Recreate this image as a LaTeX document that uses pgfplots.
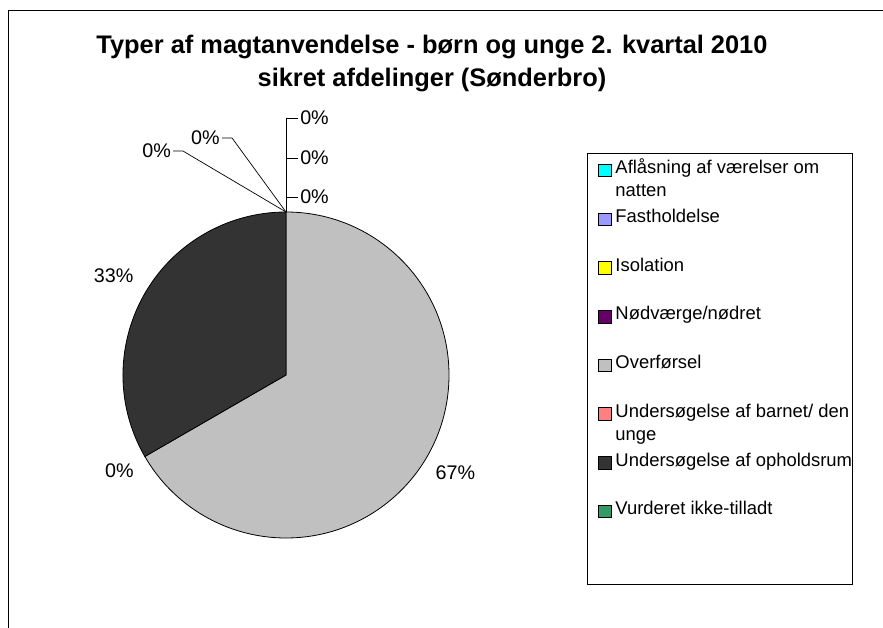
\documentclass[border=0pt]{standalone}
\usepackage{pgfplots}
\pgfplotsset{compat=1.18}
\usepackage{pgfplotstable}
\usepackage{fontspec}
\setmainfont{Liberation Sans}
\definecolor{cAfl}{HTML}{00FFFF}
\definecolor{cFast}{HTML}{9999FF}
\definecolor{cIso}{HTML}{FFFF00}
\definecolor{cNod}{HTML}{660066}
\definecolor{cOver}{HTML}{C0C0C0}
\definecolor{cUbarn}{HTML}{FF8080}
\definecolor{cUoph}{HTML}{333333}
\definecolor{cVurd}{HTML}{339966}
% value = count of each type; lr = label distance from the centre (pie radius = 1)
\pgfplotstableread[col sep=semicolon]{
name;value;color;lr
Aflåsning af værelser om natten;0;cAfl;1.05
Fastholdelse;0;cFast;1.05
Isolation;0;cIso;1.05
Nødværge/nødret;0;cNod;1.05
Overførsel;2;cOver;1.10
Undersøgelse af barnet/ den unge;0;cUbarn;1.08
Undersøgelse af opholdsrum;1;cUoph;1.12
Vurderet ikke-tilladt;0;cVurd;1.05
}\piedata
\newcommand{\lblfont}{\fontsize{19.8}{22}\selectfont}
\newcommand{\legfont}{\fontsize{18.5}{23}\selectfont}
\pgfplotsset{sqlegend/.style={legend image code/.code={\draw[##1, line width=0.8bp] (0bp,-3bp) rectangle (12.5bp,9.5bp);}}}
\begin{document}
\begin{tikzpicture}
\path[use as bounding box] (0,0) rectangle (883bp,628bp);
\fill[white] (0,0) rectangle (883bp,628bp);
\draw[line width=1bp] (8bp,-5bp) -- (8bp,617bp) -- (890bp,617bp);
\node[anchor=base, font=\fontsize{25.5}{33}\selectfont\bfseries] at (432bp,574bp) {Typer af magtanvendelse - børn og unge 2. kvartal 2010};
\node[anchor=base, font=\fontsize{25.5}{33}\selectfont\bfseries] at (432bp,541bp) {sikret afdelinger (Sønderbro)};
\draw[line width=1bp] (587bp,474bp) rectangle (852bp,43bp);
\begin{axis}[at={(286bp,253bp)}, anchor=center, scale only axis,
  width=326bp, height=326bp, xmin=-1, xmax=1, ymin=-1, ymax=1,
  hide axis, clip=false,
  legend style={draw=none, fill=none, at={(axis description cs:1.457,1.1607)}, anchor=north west,
    inner sep=0pt, row sep=0pt, font=\legfont, cells={anchor=base west},
    nodes={text width=245bp, text height=14bp, text depth=34.7bp, inner xsep=4bp, inner ysep=0pt, align=flush left}}]
  \pgfplotstablegetrowsof{\piedata}
  \pgfmathtruncatemacro{\lastrow}{\pgfplotsretval-1}
  \def\total{0}
  \pgfplotsforeachungrouped \i in {0,...,\lastrow}{%
    \pgfplotstablegetelem{\i}{value}\of{\piedata}%
    \pgfmathsetmacro{\total}{\total+\pgfplotsretval}%
  }
  \def\ang{90}
  \pgfplotsforeachungrouped \i in {0,...,\lastrow}{%
    \pgfplotstablegetelem{\i}{value}\of{\piedata}\let\sliceval\pgfplotsretval
    \pgfplotstablegetelem{\i}{color}\of{\piedata}\let\slicecol\pgfplotsretval
    \pgfplotstablegetelem{\i}{lr}\of{\piedata}\let\labr\pgfplotsretval
    \pgfmathsetmacro{\endang}{\ang-360*\sliceval/\total}%
    \pgfmathsetmacro{\midang}{(\ang+\endang)/2}%
    \pgfmathsetmacro{\cx}{cos(\ang)}%
    \pgfmathsetmacro{\cy}{sin(\ang)}%
    \ifdim\sliceval pt>0pt
      \edef\temp{\noexpand\filldraw[fill=\slicecol, draw=black, line width=0.8bp] (axis cs:0,0) -- (axis cs:\cx,\cy) arc[start angle=\ang, end angle=\endang, radius=163bp] -- cycle;}%
      \temp
    \fi
    \pgfmathtruncatemacro{\attop}{(\sliceval==0)&&(abs(mod(\ang+720,360)-90)<0.01)}%
    \ifnum\attop=0
      \pgfmathtruncatemacro{\pct}{round(100*\sliceval/\total)}%
      \pgfmathsetmacro{\anc}{mod(\midang+540,360)}%
      \pgfmathsetmacro{\lx}{\labr*cos(\midang)}%
      \pgfmathsetmacro{\ly}{\labr*sin(\midang)}%
      \edef\temp{\noexpand\node[anchor=\anc, inner sep=1bp, font=\noexpand\lblfont] at (axis cs:\lx,\ly) {\pct\noexpand\%};}%
      \temp
    \fi
    \let\ang\endang
  }
  % labels of the zero slices at the top, with leader lines
  \draw[line width=0.7bp] (axis cs:0,1) -- (axis cs:0,1.577) -- (axis cs:0.074,1.577);
  \draw[line width=0.7bp] (axis cs:0,1.331) -- (axis cs:0.074,1.331);
  \draw[line width=0.7bp] (axis cs:0,1.092) -- (axis cs:0.074,1.092);
  \node[anchor=west, inner sep=2bp, font=\lblfont] at (axis cs:0.074,1.577) {0\%};
  \node[anchor=west, inner sep=2bp, font=\lblfont] at (axis cs:0.074,1.331) {0\%};
  \node[anchor=west, inner sep=2bp, font=\lblfont] at (axis cs:0.074,1.092) {0\%};
  \draw[line width=0.7bp] (axis cs:0,1) -- (axis cs:-0.331,1.454) -- (axis cs:-0.393,1.454);
  \draw[line width=0.7bp] (axis cs:0,1) -- (axis cs:-0.632,1.374) -- (axis cs:-0.693,1.374);
  \node[anchor=east, inner sep=2bp, font=\lblfont] at (axis cs:-0.393,1.454) {0\%};
  \node[anchor=east, inner sep=2bp, font=\lblfont] at (axis cs:-0.693,1.374) {0\%};
  % legend
  \pgfplotsforeachungrouped \i in {0,...,\lastrow}{%
    \pgfplotstablegetelem{\i}{name}\of{\piedata}\let\nm\pgfplotsretval
    \pgfplotstablegetelem{\i}{color}\of{\piedata}\let\cl\pgfplotsretval
    \edef\temp{\noexpand\addlegendimage{sqlegend, fill=\cl, draw=black}\noexpand\addlegendentry{\nm}}%
    \temp
  }
\end{axis}
\end{tikzpicture}
\end{document}
